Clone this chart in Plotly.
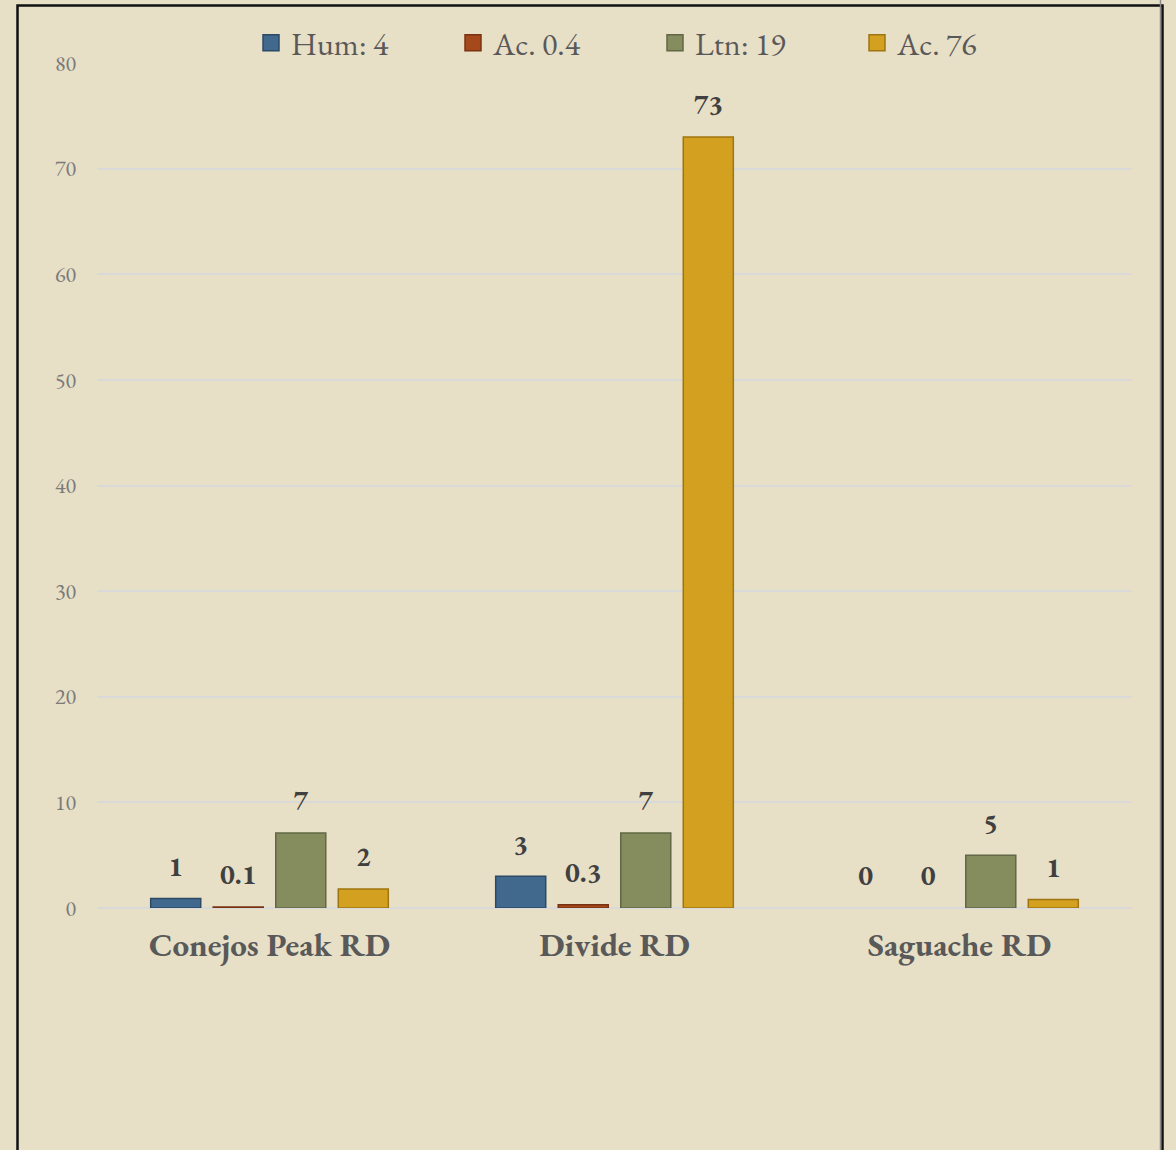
import plotly.graph_objects as go

categories = ["Conejos Peak RD", "Divide RD", "Saguache RD"]
series_names = ["Hum: 4", "Ac. 0.4", "Ltn: 19", "Ac. 76"]
hum_values = [0.9, 3.0, 0.0]
ac04_values = [0.1, 0.3, 0.0]
ltn_values = [7.1, 7.1, 5.0]
ac76_values = [1.8, 73.0, 0.8]
hum_labels = ["1", "3", "0"]
ac04_labels = ["0.1", "0.3", "0"]
ltn_labels = ["7", "7", "5"]
ac76_labels = ["2", "73", "1"]
y_ticks = [0, 10, 20, 30, 40, 50, 60, 70, 80]

colors = ["#41698D", "#A5491C", "#858C5D", "#D4A01F"]
edge_colors = ["#2C4A66", "#7A3312", "#626845", "#9E7510"]

BG = "#E7DFC6"
FONT = "EB Garamond, Garamond, Liberation Serif, serif"

fig = go.Figure()
all_values = [hum_values, ac04_values, ltn_values, ac76_values]
all_labels = [hum_labels, ac04_labels, ltn_labels, ac76_labels]
for name, vals, labs, c, ec in zip(series_names, all_values, all_labels, colors, edge_colors):
    fig.add_trace(go.Bar(
        x=categories, y=vals, name=name, showlegend=False,
        text=["<span style='font-size:28px'><b>" + t + "</b></span><br> " for t in labs],
        textposition="outside", cliponaxis=False,
        textfont=dict(family=FONT, size=12, color="#404040"),
        marker=dict(color=c, line=dict(color=ec, width=[1.5 if v > 0 else 0 for v in vals])),
    ))
    # legend entry with a larger square swatch
    fig.add_trace(go.Scatter(
        x=[None], y=[None], mode="markers", name=name, showlegend=True,
        marker=dict(symbol="square", size=16, color=c, line=dict(color=ec, width=1.5)),
    ))

ml, mt, mb, mr = 97, 63, 242, 44
W, H = 1176, 1150
pw = W - ml - mr
ph = H - mt - mb

def px_x(p):
    return (p - ml) / pw

def px_y(p):
    return (H - mb - p) / ph

fig.update_layout(
    width=W, height=H,
    margin=dict(l=ml, r=mr, t=mt, b=mb, autoexpand=False),
    paper_bgcolor=BG, plot_bgcolor=BG,
    barmode="group", bargap=0.275, bargroupgap=0.2,
    font=dict(family=FONT, color="#595959"),
    showlegend=True,
    legend=dict(orientation="h", x=px_x(251), xanchor="left", y=px_y(43), yanchor="middle",
                font=dict(family=FONT, size=32, color="#595959"),
                entrywidth=157, itemwidth=30, bgcolor="rgba(0,0,0,0)"),
    xaxis=dict(range=[-0.5, 2.5], showgrid=False, showline=False, ticks="",
               ticklabelstandoff=14,
               tickfont=dict(family=FONT, size=33, color="#595959", weight="bold")),
    yaxis=dict(range=[0, 80], tickvals=y_ticks, showgrid=True, gridcolor="#D9D9D9", gridwidth=2,
               zeroline=True, zerolinecolor="#D9D9D9", zerolinewidth=2, showline=False,
               ticks="", ticklabelstandoff=20,
               tickfont=dict(family=FONT, size=22, color="#7A7A7A")),
    shapes=[
        dict(type="rect", xref="paper", yref="paper",
             x0=px_x(17.5), x1=px_x(1162.5), y0=px_y(1160), y1=px_y(5.5),
             line=dict(color="#111111", width=2.5), fillcolor="rgba(0,0,0,0)", layer="below"),
        dict(type="line", xref="paper", yref="paper",
             x0=px_x(1160.5), x1=px_x(1160.5), y0=px_y(1160), y1=px_y(-5),
             line=dict(color="#8A8A8A", width=1.5)),
    ],
)

fig.write_html("out.html", config={"displayModeBar": False},
               post_script="document.body.style.margin='0px';")
